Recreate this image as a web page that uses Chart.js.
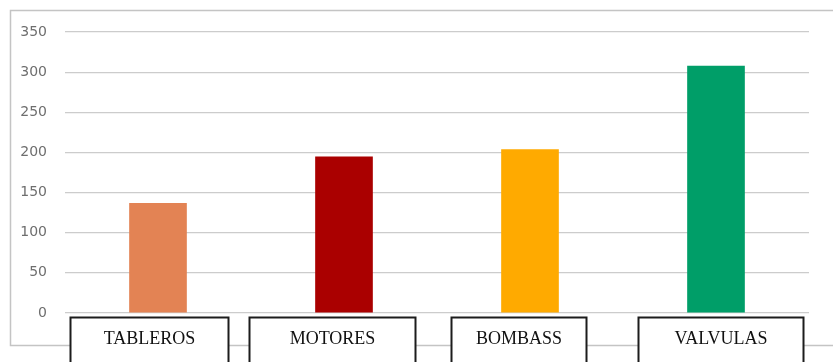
<!DOCTYPE html>
<html>
<head>
<meta charset="utf-8">
<script src="https://cdn.jsdelivr.net/npm/chart.js@4/dist/chart.umd.min.js"></script>
<style>
  html, body { margin: 0; padding: 0; background: #fff; }
  #wrap { width: 833px; height: 362px; position: relative; }
</style>
</head>
<body>
<div id="wrap"><canvas id="chart"></canvas></div>
<script>
// data
const categories = ['TABLEROS', 'MOTORES', 'BOMBASS', 'VALVULAS'];
const values = [137, 195, 204, 308];
const barColors = ['#E38354', '#AA0000', '#FFAA00', '#009E68'];
const yTicks = [0, 50, 100, 150, 200, 250, 300, 350];

// label box look (hand placed text boxes under each bar)
const boxWidths = [158, 166, 135, 165];
const boxShift = [-9, -12, -12, 4];

const frame = {
    id: 'frame',
    beforeDraw(chart) {
        const c = chart.ctx;
        c.save();
        c.strokeStyle = '#c4c4c4';
        c.lineWidth = 1.5;
        c.beginPath();
        c.moveTo(833, 10.5);
        c.lineTo(10.5, 10.5);
        c.lineTo(10.5, 345.5);
        c.lineTo(833, 345.5);
        c.stroke();
        c.restore();
    }
};

const labelBoxes = {
    id: 'labelBoxes',
    afterDraw(chart) {
        const c = chart.ctx;
        const x = chart.scales.x;
        c.save();
        c.font = '18px "Liberation Serif", "Times New Roman", serif';
        c.textAlign = 'center';
        c.textBaseline = 'middle';
        categories.forEach((name, i) => {
            const cx = x.getPixelForValue(i) + boxShift[i];
            const w = boxWidths[i];
            const left = Math.round(cx - w / 2) + 0.5;
            c.fillStyle = '#fff';
            c.fillRect(left, 317.5, w, 60);
            c.strokeStyle = '#1c1c1c';
            c.lineWidth = 2;
            c.strokeRect(left, 317.5, w, 60);
            c.fillStyle = '#111';
            c.fillText(name, left + w / 2, 339);
        });
        c.restore();
    }
};

new Chart(document.getElementById('chart'), {
    type: 'bar',
    data: {
        labels: categories,
        datasets: [{
            data: values,
            backgroundColor: barColors,
            borderWidth: 0,
            categoryPercentage: 1,
            barPercentage: 0.31
        }]
    },
    options: {
        responsive: true,
        maintainAspectRatio: false,
        animation: false,
        layout: { padding: { left: 10, right: 24, top: 32, bottom: 49 } },
        plugins: { legend: { display: false }, tooltip: { enabled: false } },
        scales: {
            x: { display: false },
            y: {
                min: 0,
                max: 350,
                afterBuildTicks(scale) { scale.ticks = yTicks.map(v => ({ value: v })); },
                afterFit(scale) { scale.width = 55; },
                border: { display: false },
                grid: { color: '#cccccc', lineWidth: 1.2, drawTicks: false },
                ticks: {
                    padding: 18,
                    color: '#6e6e6e',
                    font: { family: '"DejaVu Sans", sans-serif', size: 14 }
                }
            }
        }
    },
    plugins: [frame, labelBoxes]
});
</script>
</body>
</html>
